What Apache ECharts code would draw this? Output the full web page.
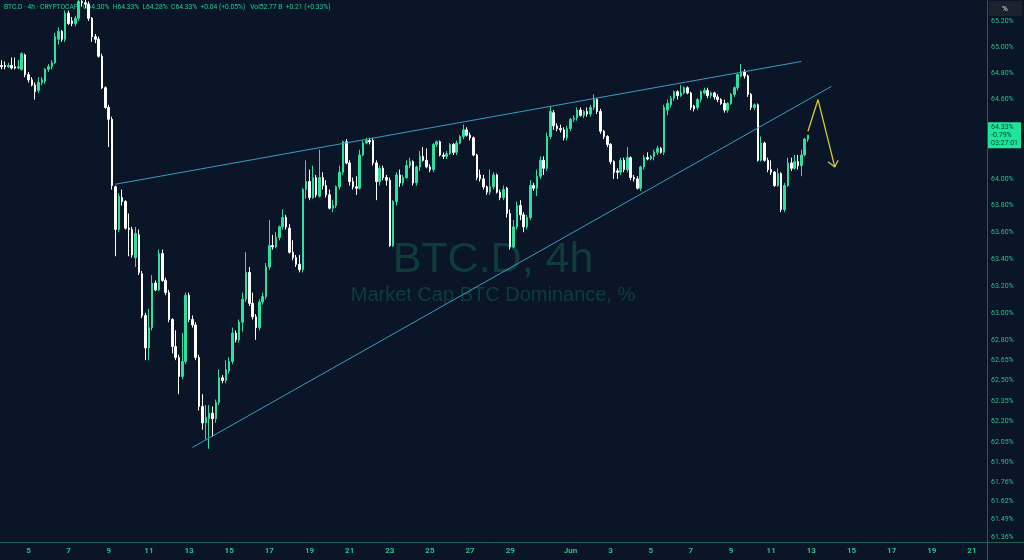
<!DOCTYPE html>
<html><head><meta charset="utf-8">
<script src="https://cdn.jsdelivr.net/npm/echarts@6/dist/echarts.min.js"></script>
<style>html,body{margin:0;padding:0;background:#0a1628;}#c{width:1024px;height:560px;}</style>
</head><body><div id="c"></div>
<script>
// ---- data ----
const firstSlotUTC = Date.UTC(2025, 4, 3, 16, 0); // first 4h slot shown
const slotCount = 295;                            // visible 4h slots incl. empty future
// [open, close, low, high] per 4h candle, in %
const ohlc = [
[64.86,64.85,64.83,64.90],[64.86,64.85,64.83,64.89],[64.85,64.86,64.84,64.88],[64.86,64.84,64.83,64.92],
[64.85,64.84,64.83,64.92],[64.84,64.85,64.83,64.90],[64.83,64.95,64.82,64.96],[64.94,64.79,64.77,64.95],
[64.79,64.75,64.73,64.81],[64.75,64.71,64.70,64.77],[64.71,64.66,64.60,64.73],[64.67,64.73,64.65,64.77],
[64.73,64.75,64.71,64.77],[64.74,64.83,64.72,64.84],[64.83,64.85,64.81,64.87],[64.85,64.88,64.83,64.90],
[64.88,65.08,64.87,65.11],[65.06,65.12,65.02,65.15],[65.12,65.06,65.04,65.13],[65.06,65.26,65.04,65.28],
[65.26,65.18,65.17,65.28],[65.20,65.18,65.16,65.23],[65.18,65.22,65.16,65.24],[65.22,65.35,65.20,65.40],
[65.35,65.34,65.31,65.40],[65.34,65.33,65.30,65.38],[65.33,65.22,65.20,65.35],[65.22,65.08,65.04,65.23],
[65.08,65.06,65.03,65.10],[65.06,64.93,64.92,65.08],[64.93,64.69,64.68,64.95],[64.69,64.54,64.53,64.70],
[64.54,64.45,64.24,64.56],[64.45,63.95,63.92,64.47],[63.94,63.62,63.42,63.95],[63.62,63.87,63.60,63.89],
[63.86,63.83,63.80,63.92],[63.83,63.63,63.62,63.84],[63.63,63.62,63.42,63.74],[63.62,63.43,63.41,63.64],
[63.41,63.59,63.34,63.64],[63.58,63.30,63.28,63.62],[63.29,62.98,62.96,63.31],[62.98,62.74,62.65,63.00],
[62.74,62.89,62.65,63.03],[62.89,63.22,62.87,63.28],[63.22,63.17,63.16,63.24],[63.17,63.44,63.16,63.47],
[63.44,63.24,63.23,63.47],[63.24,63.15,63.13,63.26],[63.15,62.95,62.93,63.17],[62.95,62.75,62.70,62.96],
[62.75,62.67,62.65,62.87],[62.67,62.53,62.40,62.69],[62.53,62.64,62.51,62.85],[62.64,63.13,62.62,63.15],
[63.13,62.95,62.93,63.15],[62.95,62.91,62.89,62.98],[62.91,62.67,62.65,62.93],[62.67,62.31,62.28,62.69],
[62.31,62.19,62.14,62.40],[62.19,62.23,62.07,62.32],[62.22,62.26,62.00,62.32],[62.26,62.22,62.09,62.31],
[62.22,62.34,62.19,62.36],[62.34,62.52,62.32,62.58],[62.52,62.50,62.48,62.54],[62.50,62.58,62.48,62.65],
[62.57,62.64,62.55,62.67],[62.64,62.85,62.62,62.89],[62.85,62.80,62.78,62.87],[62.80,62.93,62.78,62.95],
[62.93,63.10,62.86,63.15],[63.10,63.30,63.08,63.45],[63.30,63.07,63.05,63.34],[63.07,62.97,62.95,63.15],
[62.97,62.89,62.80,62.99],[62.89,63.08,62.87,63.10],[63.08,63.12,63.06,63.15],[63.12,63.34,63.10,63.37],
[63.34,63.50,63.32,63.69],[63.50,63.49,63.47,63.58],[63.49,63.56,63.48,63.60],[63.56,63.64,63.54,63.65],
[63.64,63.71,63.62,63.77],[63.71,63.64,63.62,63.73],[63.63,63.45,63.44,63.66],[63.45,63.41,63.39,63.54],
[63.41,63.36,63.34,63.43],[63.36,63.32,63.30,63.43],[63.32,63.92,63.30,63.93],[63.92,63.98,63.85,64.14],
[63.98,63.86,63.84,64.07],[63.86,64.01,63.85,64.10],[64.01,63.88,63.86,64.03],[63.87,64.01,63.86,64.22],
[64.01,63.95,63.92,64.05],[63.95,63.88,63.86,63.99],[63.88,63.78,63.77,63.92],[63.78,63.80,63.75,63.84],
[63.80,63.94,63.78,63.95],[63.94,64.05,63.92,64.10],[64.05,64.28,64.03,64.29],[64.28,64.12,64.11,64.30],
[64.12,63.98,63.95,64.14],[63.98,63.94,63.92,64.01],[63.94,63.93,63.88,64.02],[63.93,64.18,63.92,64.22],
[64.18,64.27,64.17,64.29],[64.27,64.29,64.26,64.31],[64.29,64.28,64.26,64.31],[64.29,64.12,64.10,64.31],
[64.12,63.98,63.84,64.14],[63.98,64.08,63.95,64.10],[64.08,64.01,63.99,64.10],[64.01,63.99,63.95,64.03],
[63.99,63.50,63.49,64.01],[63.50,63.83,63.49,63.84],[63.83,64.03,63.80,64.05],[64.03,63.97,63.94,64.07],
[63.97,64.01,63.95,64.03],[64.01,64.10,64.00,64.14],[64.10,64.13,64.08,64.16],[64.13,63.97,63.95,64.14],
[63.97,64.09,63.95,64.10],[64.09,64.17,64.06,64.21],[64.17,64.14,64.13,64.24],[64.14,64.09,64.08,64.23],
[64.09,64.07,64.05,64.11],[64.07,64.26,64.05,64.27],[64.26,64.28,64.24,64.29],[64.28,64.18,64.17,64.29],
[64.18,64.17,64.15,64.20],[64.17,64.19,64.15,64.21],[64.19,64.26,64.18,64.27],[64.26,64.20,64.18,64.27],
[64.20,64.27,64.18,64.29],[64.27,64.32,64.26,64.33],[64.32,64.37,64.30,64.41],[64.37,64.33,64.32,64.39],
[64.33,64.31,64.29,64.35],[64.31,64.18,64.17,64.32],[64.18,64.01,63.99,64.19],[64.03,64.00,63.98,64.07],
[64.00,63.94,63.92,64.03],[63.94,63.90,63.88,63.95],[63.90,63.94,63.88,64.07],[63.94,64.03,63.92,64.05],
[64.03,63.90,63.89,64.04],[63.90,63.86,63.84,63.92],[63.86,63.92,63.84,63.95],[63.93,63.74,63.71,63.94],
[63.74,63.49,63.47,63.77],[63.49,63.64,63.48,63.69],[63.64,63.80,63.62,63.83],[63.80,63.73,63.69,63.84],
[63.73,63.64,63.60,63.75],[63.64,63.71,63.62,63.73],[63.71,63.95,63.69,63.99],[63.95,63.93,63.91,63.97],
[63.93,64.02,63.87,64.07],[64.02,64.14,64.00,64.17],[64.14,64.08,64.03,64.17],[64.08,64.32,64.06,64.35],
[64.32,64.51,64.30,64.55],[64.50,64.40,64.37,64.52],[64.40,64.38,64.36,64.42],[64.38,64.37,64.35,64.41],
[64.37,64.31,64.29,64.39],[64.31,64.38,64.29,64.40],[64.38,64.45,64.36,64.46],[64.45,64.46,64.43,64.48],
[64.46,64.52,64.44,64.54],[64.52,64.48,64.47,64.54],[64.48,64.51,64.46,64.52],[64.51,64.49,64.47,64.54],
[64.49,64.54,64.47,64.56],[64.54,64.60,64.52,64.64],[64.60,64.51,64.49,64.61],[64.51,64.36,64.34,64.53],
[64.36,64.32,64.30,64.37],[64.32,64.26,64.24,64.33],[64.26,64.13,64.11,64.27],[64.13,64.05,64.00,64.14],
[64.06,64.05,64.00,64.08],[64.05,64.14,64.03,64.16],[64.14,64.07,64.05,64.16],[64.07,64.16,64.05,64.24],
[64.16,64.01,63.99,64.17],[64.01,64.00,63.98,64.03],[64.00,63.93,63.92,64.02],[63.93,64.09,63.91,64.10],
[64.09,64.16,64.07,64.18],[64.16,64.15,64.14,64.20],[64.15,64.17,64.14,64.18],[64.17,64.20,64.14,64.22],
[64.20,64.23,64.18,64.25],[64.23,64.20,64.19,64.24],[64.20,64.54,64.18,64.56],[64.52,64.57,64.48,64.60],
[64.56,64.61,64.54,64.63],[64.61,64.66,64.59,64.67],[64.66,64.63,64.60,64.67],[64.63,64.65,64.62,64.71],
[64.65,64.69,64.64,64.70],[64.69,64.65,64.64,64.70],[64.65,64.54,64.52,64.66],[64.55,64.53,64.51,64.56],
[64.54,64.60,64.52,64.61],[64.60,64.66,64.58,64.67],[64.65,64.67,64.64,64.69],[64.67,64.63,64.61,64.69],
[64.63,64.65,64.61,64.66],[64.65,64.62,64.60,64.66],[64.62,64.60,64.58,64.64],[64.60,64.57,64.56,64.61],
[64.57,64.52,64.50,64.60],[64.52,64.57,64.50,64.58],[64.57,64.64,64.56,64.65],[64.64,64.69,64.62,64.70],
[64.69,64.79,64.67,64.80],[64.78,64.81,64.77,64.87],[64.81,64.78,64.76,64.83],[64.78,64.64,64.62,64.79],
[64.64,64.54,64.52,64.65],[64.54,64.56,64.52,64.57],[64.56,64.14,64.13,64.57],[64.14,64.27,64.13,64.32],
[64.27,64.14,64.13,64.28],[64.14,64.07,64.05,64.16],[64.07,64.05,64.03,64.14],[64.05,63.95,63.94,64.06],
[63.95,64.04,63.94,64.08],[64.04,63.77,63.75,64.05],[63.77,63.95,63.75,63.97],[63.95,64.12,63.94,64.16],
[64.12,64.08,64.06,64.16],[64.08,64.13,64.07,64.18],[64.13,64.10,64.07,64.18],[64.10,64.18,64.02,64.22],
[64.18,64.30,64.17,64.31],[64.30,64.33,64.28,64.33]
];
const yTickValues = [65.20,65.00,64.80,64.60,64.40,64.00,63.80,63.60,63.40,63.20,63.00,62.80,62.65,62.50,62.35,62.20,62.05,61.90,61.76,61.62,61.49,61.36];
const yMin = 61.324, yMax = 65.361;
const upperTrend = [['2025-05-09 08:00', 63.96], ['2025-06-12 12:00', 64.89]];
const lowerTrend = [['2025-05-13 04:00', 62.01], ['2025-06-14 00:00', 64.70]];
const arrowPath  = [['2025-06-12 20:00', 64.36], ['2025-06-13 08:00', 64.60], ['2025-06-14 04:00', 64.09]];
const arrowHead  = [['2025-06-13 20:00', 64.13], ['2025-06-14 04:00', 64.09], ['2025-06-14 08:00', 64.14]];
const lastPriceLines = ['64.33%', '-0.79%', '03:27:01'];
const lastPrice = 64.33;
const headerText = 'BTC.D · 4h · CRYPTOCAP   O64.30%  H64.33%  L64.28%  C64.33%  +0.04 (+0.05%)   Vol52.77 B  +0.21 (+0.33%)';
const watermarkTitle = 'BTC.D, 4h';
const watermarkSub = 'Market Cap BTC Dominance, %';

// ---- categories ----
function pad(n){return (n<10?'0':'')+n;}
const categories = [];
for (let i = 0; i < slotCount; i++) {
  const d = new Date(firstSlotUTC + i * 4 * 3600000);
  categories.push(d.getUTCFullYear()+'-'+pad(d.getUTCMonth()+1)+'-'+pad(d.getUTCDate())+' '+pad(d.getUTCHours())+':00');
}
function parts(s){return {m:+s.slice(5,7), d:+s.slice(8,10), h:+s.slice(11,13)};}
function showLabel(s){const p=parts(s); return p.h===0 && p.d%2===1 && !(p.m===5 && p.d===31);}

const UP = '#2ee0a0', DOWN = '#ffffff', AXIS = '#1f5d55', TXT = '#2bbf8c';
const chart = echarts.init(document.getElementById('c'), null, {renderer:'canvas'});
chart.setOption({
  backgroundColor: '#0a1628',
  animation: false,
  grid: {left: -2, right: 37, top: 0, bottom: 18},
  xAxis: {
    type: 'category', data: categories, boundaryGap: true,
    axisLine: {show: true, lineStyle: {color: AXIS, width: 1}},
    axisTick: {show: false}, splitLine: {show: false},
    axisLabel: {
      interval: (idx, val) => showLabel(val),
      formatter: (val) => { const p = parts(val); return (p.m===6 && p.d===1) ? 'Jun' : String(p.d); },
      color: TXT, fontSize: 8, fontWeight: 'bold', fontFamily: 'Roboto', margin: 5
    }
  },
  yAxis: {
    type: 'log', logBase: 10, min: yMin, max: yMax, position: 'right',
    axisLine: {show: true, lineStyle: {color: AXIS, width: 1}},
    axisTick: {show: false}, splitLine: {show: false},
    axisLabel: {
      customValues: yTickValues,
      formatter: (v) => Number(v).toFixed(2) + '%',
      color: TXT, fontSize: 7, fontFamily: 'Roboto', margin: 4
    }
  },
  graphic: [
    {type:'text', left: 4, top: 4, z: 0, style:{text: headerText, fill: '#27c88f', font: '6.7px Roboto'}},
    {type:'text', x: 493, y: 260, z: 0, style:{text: watermarkTitle, fill: '#0f3c3a', font: '43px "Liberation Sans"', textAlign:'center', textVerticalAlign:'middle'}},
    {type:'text', x: 493, y: 295, z: 0, style:{text: watermarkSub, fill: '#0f3c3a', font: '20px "Liberation Sans"', textAlign:'center', textVerticalAlign:'middle'}},
    {type:'rect', shape:{x: 989, y: 1, width: 33, height: 15}, style:{fill:'#1b222c'}},
    {type:'text', x: 1005, y: 8.5, style:{text:'%', fill:'#e0e0e0', font:'8px Roboto', textAlign:'center', textVerticalAlign:'middle'}},
    {type:'line', shape:{x1: 987.5, y1: 542, x2: 987.5, y2: 560}, style:{stroke: AXIS, lineWidth: 1}},
    {type:'line', shape:{x1: 987, y1: 542.5, x2: 1024, y2: 542.5}, style:{stroke: AXIS, lineWidth: 1}}
  ],
  series: [
    {
      type: 'candlestick', data: ohlc, barWidth: 2,
      itemStyle: {color: UP, color0: DOWN, borderColor: UP, borderColor0: DOWN, borderWidth: 1},
      markLine: {
        silent: true, symbol: 'none', animation: false,
        lineStyle: {color: 'rgba(0,0,0,0)', width: 0.01},
        data: [{yAxis: lastPrice}],
        label: {
          show: true, position: 'end', distance: 1,
          formatter: lastPriceLines.join('\n'),
          backgroundColor: '#1fe59c', color: '#0b4a33', opacity: 1,
          fontSize: 7, lineHeight: 8, fontFamily: 'Roboto',
          padding: [1, 3, 1, 3]
        }
      }
    },
    {type:'line', data: upperTrend, symbol:'none', silent:true, lineStyle:{color:'#3b9cc2', width:1}},
    {type:'line', data: lowerTrend, symbol:'none', silent:true, lineStyle:{color:'#3b9cc2', width:1}},
    {type:'line', data: arrowPath, symbol:'none', silent:true, lineStyle:{color:'#d8c83c', width:1.3}},
    {type:'line', data: arrowHead, symbol:'none', silent:true, lineStyle:{color:'#d8c83c', width:1.3}}
  ]
});
</script>
</body></html>
